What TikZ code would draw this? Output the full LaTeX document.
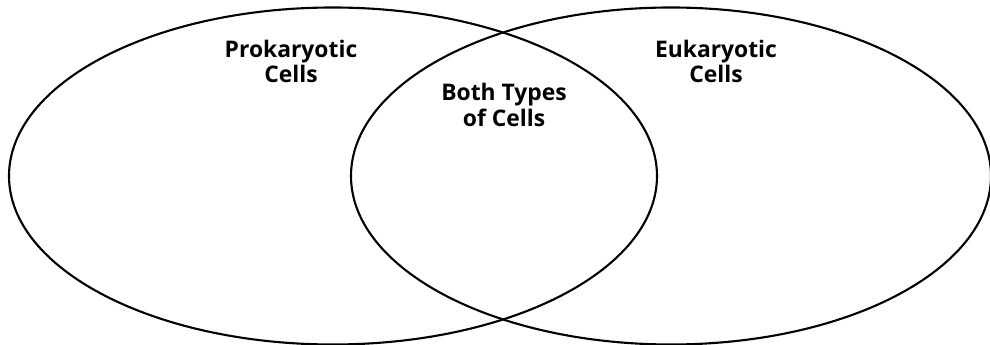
\documentclass[tikz,border=0pt]{standalone}
\usepackage{fontspec}
\setmainfont{Open Sans}
\usepackage{tikz}
\usetikzlibrary{positioning,shapes.geometric}

\begin{document}
\begin{tikzpicture}[
cellset/.style={draw,ellipse,line width=1.2pt,inner sep=0pt},
setlabel/.style={align=center,font=\bfseries\fontsize{13}{14.3}\selectfont,inner sep=0pt}]
\useasboundingbox (0,0) rectangle (19.8,6.9);
\node[cellset,minimum width=12.96cm,minimum height=6.74cm](pro) at (6.66,3.38){};
\node[cellset,minimum width=12.8cm,minimum height=6.74cm](euk) at (13.42,3.38){};
\node[setlabel](prolabel) at (5.82,5.68){Prokaryotic\\Cells};
\node[setlabel](euklabel) at (14.32,5.68){Eukaryotic\\Cells};
\node[setlabel](bothlabel) at (10.08,4.8){Both Types\\of Cells};
\end{tikzpicture}
\end{document}
